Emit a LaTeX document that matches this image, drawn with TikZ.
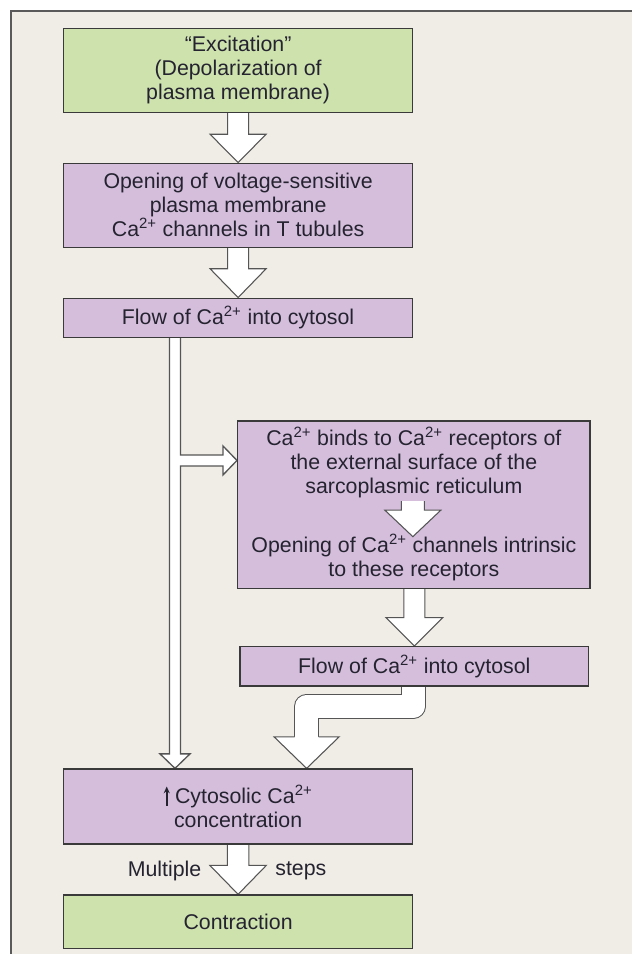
\documentclass[tikz,border=0pt]{standalone}
\usepackage{fontspec}
\setmainfont{Liberation Sans}
\usetikzlibrary{calc,arrows.meta}
\definecolor{bgc}{HTML}{F0EDE6}
\definecolor{grn}{HTML}{CDE2AD}
\definecolor{prp}{HTML}{D4BEDC}
\definecolor{txt}{HTML}{252330}
\definecolor{edgec}{HTML}{3A3A3A}
\definecolor{alinec}{HTML}{555555}
\definecolor{framec}{HTML}{5A5A5A}
\pgfdeclarelayer{bg}
\pgfdeclarelayer{arrows}
\pgfsetlayers{bg,arrows,main}
\tikzset{
  boxbase/.style={draw=edgec, line width=1.1pt, inner sep=0pt, align=center, text=txt, font=\fontsize{16}{18}\selectfont},
  gbox/.style={boxbase, fill=grn},
  pbox/.style={boxbase, fill=prp},
  lbl/.style={text=txt, font=\fontsize{16}{18}\selectfont, inner sep=0pt},
  arrline/.style={draw=alinec, line width=0.8pt, line join=miter},
}
% vertical block arrow: #1 start (shaft top), #2 tip, #3 shaft half width, #4 head half width, #5 head length
\newcommand{\blockarrow}[5]{%
  \fill[white] ($(#1)+(-#3,0)$) -- ($(#2)+(-#3,-#5)$) -- ($(#2)+(-#4,-#5)$) -- (#2) -- ($(#2)+(#4,-#5)$) -- ($(#2)+(#3,-#5)$) -- ($(#1)+(#3,0)$) -- cycle;
  \draw[arrline] ($(#1)+(-#3,0)$) -- ($(#2)+(-#3,-#5)$) -- ($(#2)+(-#4,-#5)$) -- (#2) -- ($(#2)+(#4,-#5)$) -- ($(#2)+(#3,-#5)$) -- ($(#1)+(#3,0)$);
}
\newcommand{\uparrowglyph}{\tikz[baseline=0pt]\draw[draw=txt, line width=1.3pt, -{Stealth[length=5pt,width=4.5pt]}] (0pt,-1.5pt) -- (0pt,13pt);\hspace{4pt}}
\begin{document}
\begin{tikzpicture}[x=0.75pt, y=-0.75pt]
\useasboundingbox (0,0) rectangle (632,954);
\begin{pgfonlayer}{bg}
  \fill[white] (-5,-5) rectangle (640,960);
  \fill[bgc] (11,10.7) rectangle (640,960);
  \draw[line width=1.5pt, draw=framec] (11,960) -- (11,10.7) -- (640,10.7);
\end{pgfonlayer}

\node[gbox, minimum width=261.6pt, minimum height=63pt] (b1) at (238.1,70.3)
  {“Excitation”\\(Depolarization of\\plasma membrane)};
\node[pbox, minimum width=261.6pt, minimum height=63pt] (b2) at (238.1,205.3)
  {Opening of voltage-sensitive\\plasma membrane\\Ca\textsuperscript{2+} channels in T tubules};
\node[pbox, minimum width=261.6pt, minimum height=29.25pt] (b3) at (238.1,317.8)
  {Flow of Ca\textsuperscript{2+} into cytosol};
\node[pbox, minimum width=264.2pt, minimum height=125.5pt] (b4) at (413.85,504.65) {};
\coordinate (sa1) at ($(b4.center)+(-1,-3.6)$);
\coordinate (sa2) at ($(b4.center)+(-1,32)$);
\blockarrow{sa1}{sa2}{11.5}{28}{26.5}
\node[lbl, align=center] (b4t) at ($(b4.center)+(0,-42.2)$)
  {Ca\textsuperscript{2+} binds to Ca\textsuperscript{2+} receptors of\\the external surface of the\\sarcoplasmic reticulum};
\node[lbl, align=center] (b4b) at ($(b4.center)+(0,53)$)
  {Opening of Ca\textsuperscript{2+} channels intrinsic\\to these receptors};
\node[pbox, minimum width=261.5pt, minimum height=29.5pt] (b5) at (414.35,666.35)
  {Flow of Ca\textsuperscript{2+} into cytosol};
\node[pbox, minimum width=261.6pt, minimum height=56.25pt] (b6) at (238.1,806.6)
  {\uparrowglyph Cytosolic Ca\textsuperscript{2+}\\concentration};
\node[gbox, minimum width=261.6pt, minimum height=40pt] (b7) at (238.1,921.7)
  {Contraction};

\coordinate (mid67) at ($(b6.south)!0.5!(b7.north)$);
\node[lbl, anchor=east] (mul) at ($(mid67)+(-36.5,1.5)$) {Multiple};
\node[lbl, anchor=west] (stp) at ($(mid67)+(37,1.5)$) {steps};

\begin{pgfonlayer}{arrows}
  \blockarrow{b1.south}{b2.north}{10.5}{28}{28.3}
  \blockarrow{b2.south}{b3.north}{10.5}{28}{28.8}
  \blockarrow{b5.north |- b4.south}{b5.north}{10.5}{28.5}{28.4}
  \blockarrow{b6.south}{b7.north}{10.8}{28.3}{29}
  % thin column with branch
  \coordinate (colx) at (175,0);
  \coordinate (ct) at (b3.south -| colx);
  \coordinate (cb) at (b6.north -| colx);
  \coordinate (bt) at ($(b4.west)+(0,-44.2)$);
  \fill[white] ($(ct)+(-5.5,0)$) rectangle ($(cb)+(5.5,-14.5)$);
  \fill[white] ($(ct |- bt)+(0,-5.5)$) rectangle ($(bt)+(-14,5.5)$);
  \fill[white] ($(cb)+(-15,-14.5)$) -- (cb) -- ($(cb)+(15,-14.5)$) -- cycle;
  \fill[white] ($(bt)+(-14,-14.5)$) -- (bt) -- ($(bt)+(-14,14.5)$) -- cycle;
  \draw[arrline, line width=1pt] ($(ct)+(-5.5,0)$) -- ($(cb)+(-5.5,-14.5)$) -- ($(cb)+(-15,-14.5)$) -- (cb)
    -- ($(cb)+(15,-14.5)$) -- ($(cb)+(5.5,-14.5)$) -- ($(ct |- bt)+(5.5,5.5)$)
    -- ($(bt)+(-14,5.5)$) -- ($(bt)+(-14,14.5)$) -- (bt) -- ($(bt)+(-14,-14.5)$)
    -- ($(bt)+(-14,-5.5)$) -- ($(ct |- bt)+(5.5,-5.5)$) -- ($(ct)+(5.5,0)$);
  % bent wide arrow from b5 to b6
  \coordinate (cs) at ($(b5.south)+(-1,0)$);
  \coordinate (ce) at ($(b6.north)+(68.5,0)$);
  \draw[draw=alinec, line width=18.6pt, line join=round] (cs) -- ($(cs)+(0,19.5)$) -| ($(ce)+(0,-31.5)$);
  \draw[draw=white, line width=17.1pt, line join=round] (cs) -- ($(cs)+(0,19.5)$) -| ($(ce)+(0,-31.5)$);
  \fill[white] ($(ce)+(-32.5,-31.5)$) -- (ce) -- ($(ce)+(32.5,-31.5)$) -- cycle;
  \draw[arrline] ($(ce)+(-12,-31.5)$) -- ($(ce)+(-32.5,-31.5)$) -- (ce) -- ($(ce)+(32.5,-31.5)$) -- ($(ce)+(12,-31.5)$);
\end{pgfonlayer}
\end{tikzpicture}
\end{document}
